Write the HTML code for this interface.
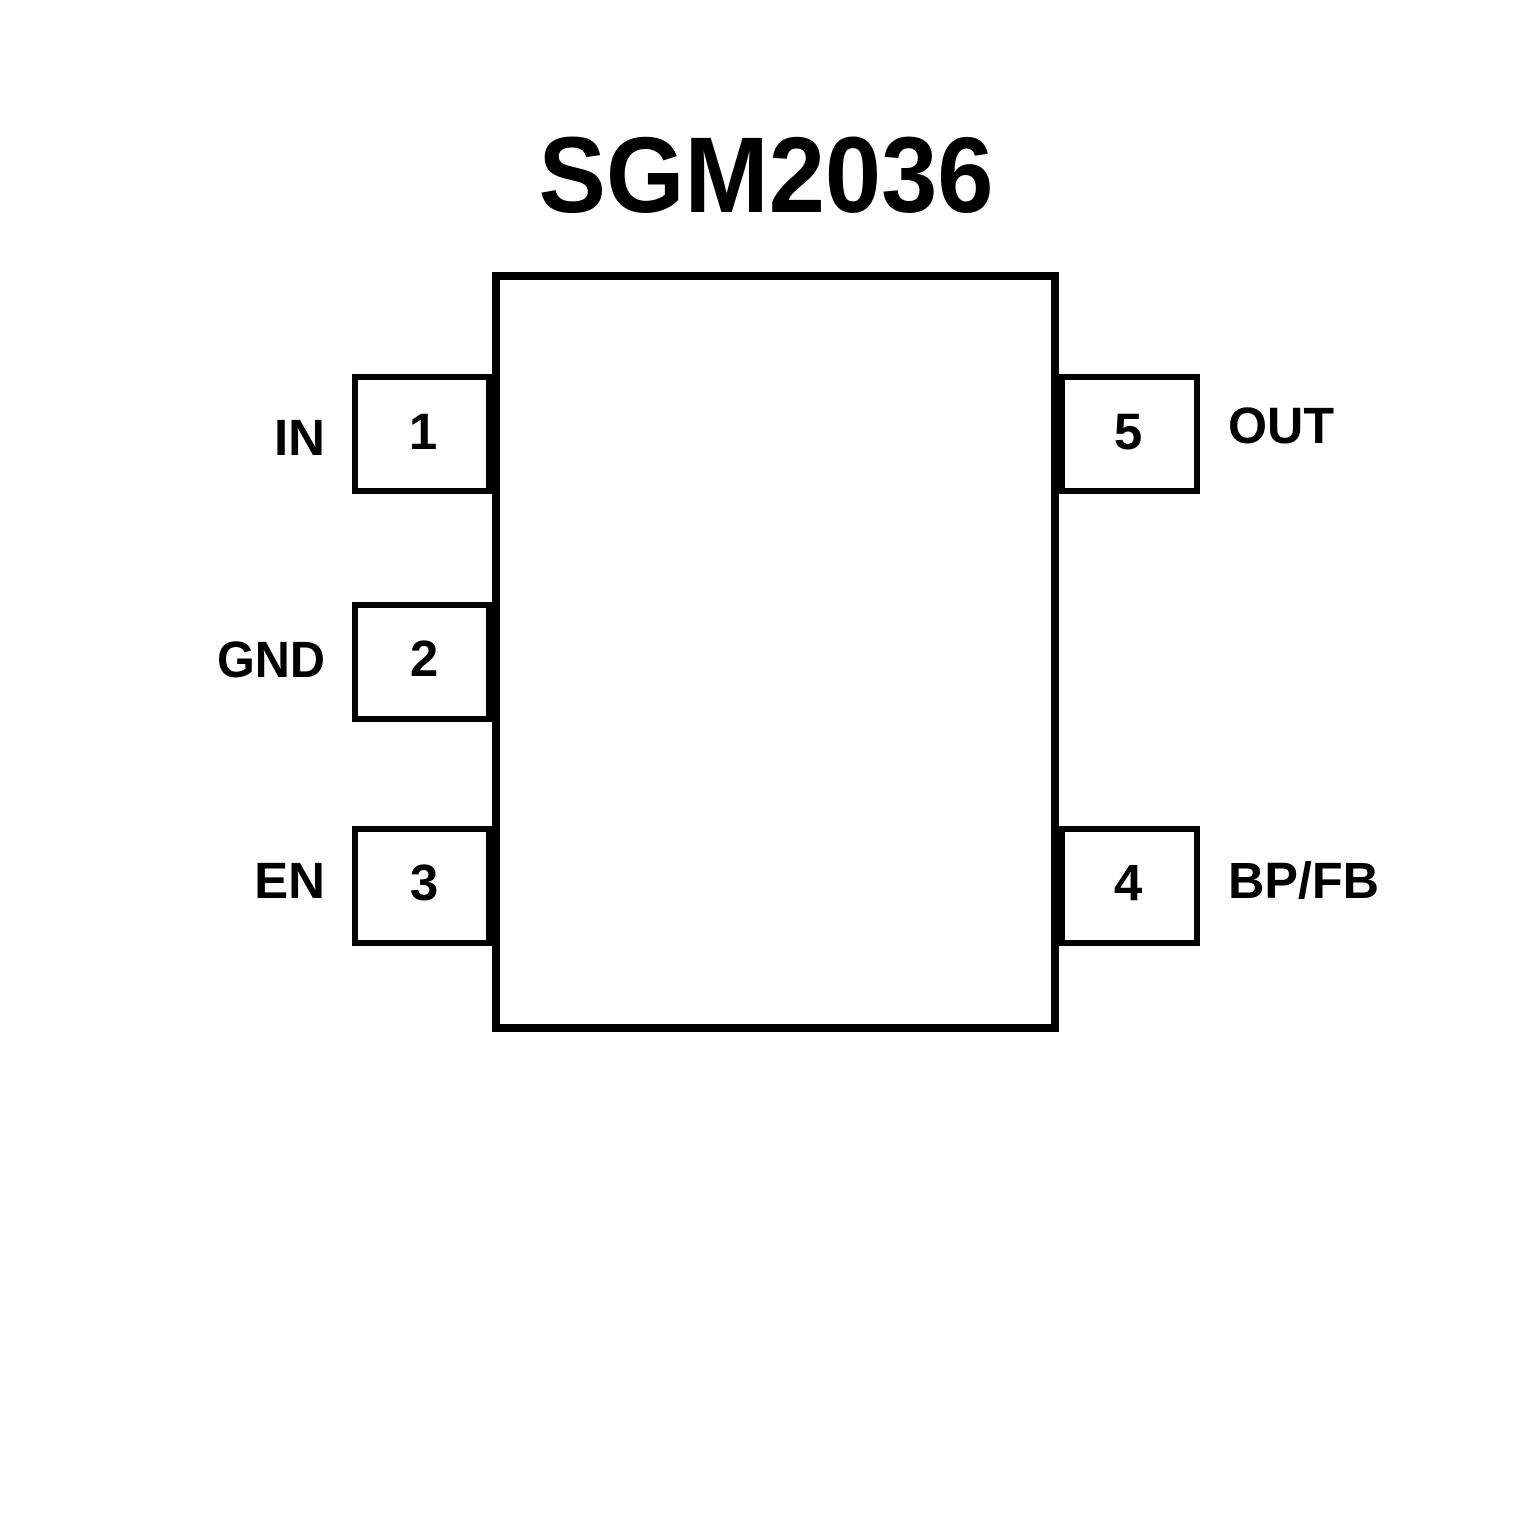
<!DOCTYPE html>
<html><head><style>html,body{margin:0;padding:0;background:#fff}</style></head>
<body>
<svg width="1535" height="1535" xmlns="http://www.w3.org/2000/svg" style="display:block">
<rect width="1535" height="1535" fill="#fff"/>
<text x="766" y="212" text-anchor="middle" font-family="Liberation Sans, sans-serif" font-weight="bold" font-size="108" textLength="455" lengthAdjust="spacingAndGlyphs">SGM2036</text>
<g fill="none" stroke="#000">
<rect x="496" y="276" width="559" height="752" stroke-width="8"/>
<rect x="355" y="377" width="134" height="114" stroke-width="6"/>
<rect x="355" y="605" width="134" height="114" stroke-width="6"/>
<rect x="355" y="829" width="134" height="114" stroke-width="6"/>
<rect x="1062" y="377" width="135" height="114" stroke-width="6"/>
<rect x="1062" y="829" width="135" height="114" stroke-width="6"/>
</g>
<g font-family="Liberation Sans, Arial, sans-serif" font-weight="bold" font-size="51" fill="#000">
<text x="325" y="455" text-anchor="end">IN</text>
<text x="325" y="677" text-anchor="end" textLength="108" lengthAdjust="spacingAndGlyphs">GND</text>
<text x="325" y="898" text-anchor="end">EN</text>
<text x="423" y="449" text-anchor="middle">1</text>
<text x="424" y="676" text-anchor="middle">2</text>
<text x="424" y="900" text-anchor="middle">3</text>
<text x="1128" y="449" text-anchor="middle">5</text>
<text x="1128" y="900" text-anchor="middle">4</text>
<text x="1228" y="443" textLength="106" lengthAdjust="spacingAndGlyphs">OUT</text>
<text x="1228" y="898" textLength="151" lengthAdjust="spacingAndGlyphs">BP/FB</text>
</g>
</svg>
</body></html>
